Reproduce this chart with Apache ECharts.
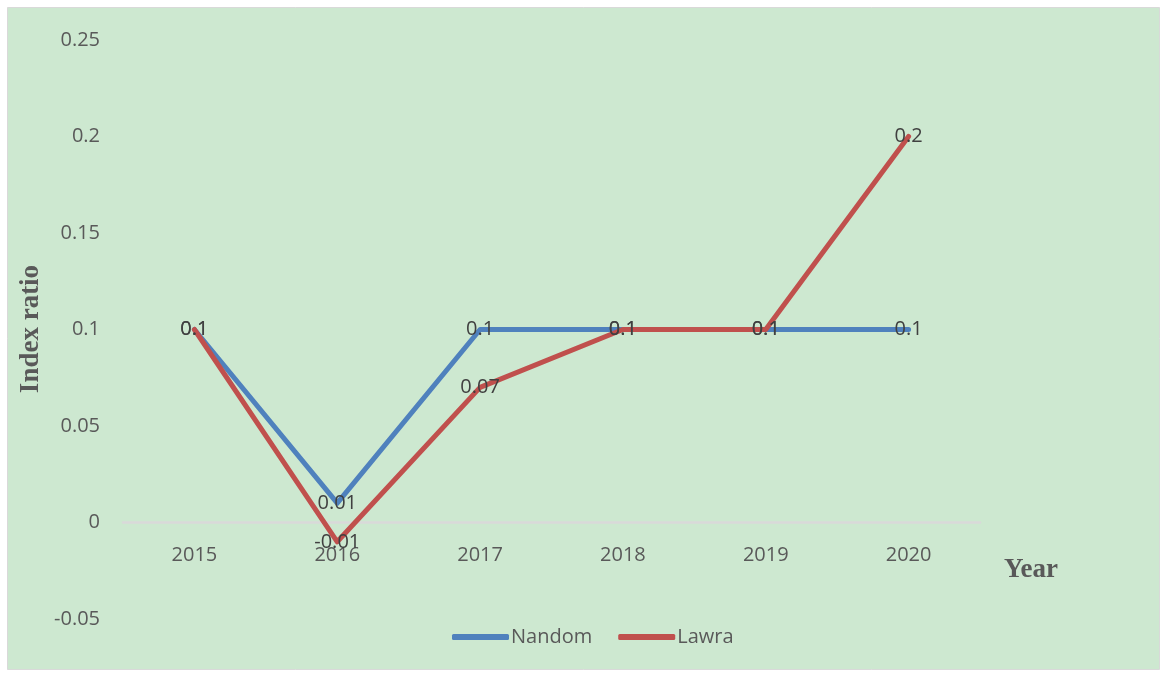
<!DOCTYPE html>
<html>
<head>
<meta charset="utf-8">
<script src="https://cdn.jsdelivr.net/npm/echarts@6/dist/echarts.min.js"></script>
<style>
html,body{margin:0;padding:0;background:#ffffff;}
#chart{width:1166px;height:674px;}
</style>
</head>
<body>
<div id="chart"></div>
<script>
const categories = ['2015','2016','2017','2018','2019','2020'];
const nandom = [0.1, 0.01, 0.1, 0.1, 0.1, 0.1];
const lawra = [0.1, -0.01, 0.07, 0.1, 0.1, 0.2];
const seriesNames = ['Nandom','Lawra'];
const yTitle = 'Index ratio';
const xTitle = 'Year';
const colors = ['#4F81BD', '#C0504D'];

const chart = echarts.init(document.getElementById('chart'));
const labelFont = '"Open Sans", "Noto Sans", sans-serif';
function mkSeries(name, data, color) {
  return {
    name: name, type: 'line', data: data, symbol: 'circle', symbolSize: 0.1, showSymbol: true,
    lineStyle: { color: color, width: 5, cap: 'round', join: 'round' },
    itemStyle: { color: color },
    label: { show: true, position: 'inside', offset: [1, 2], color: '#404040', fontSize: 20, fontFamily: labelFont,
      formatter: p => String(p.value) },
    labelLayout: { hideOverlap: false },
    emphasis: { disabled: true },
    z: 3
  };
}
chart.setOption({
  backgroundColor: '#ffffff',
  animation: false,
  graphic: [
    { type: 'rect', shape: { x: 7.5, y: 7.5, width: 1152, height: 662 },
      style: { fill: '#CDE8D0', stroke: '#D9D9D9', lineWidth: 1 }, z: -10, silent: true },
    { type: 'text', x: 31, y: 329, rotation: Math.PI / 2,
      style: { text: yTitle, font: 'bold 27px "Liberation Serif", "Times New Roman", serif', fill: '#595959',
        textAlign: 'center', textVerticalAlign: 'middle' } },
    { type: 'text', x: 1031, y: 570,
      style: { text: xTitle, font: 'bold 27px "Liberation Serif", "Times New Roman", serif', fill: '#595959',
        textAlign: 'center', textVerticalAlign: 'middle' } }
  ],
  grid: { left: 123, right: 186, top: 40, bottom: 55, containLabel: false },
  legend: {
    bottom: 22, left: 447, itemWidth: 57, itemHeight: 6, itemGap: 26, icon: 'roundRect',
    textStyle: { color: '#595959', fontSize: 20, fontFamily: labelFont, padding: [0,0,0,-3] },
    data: seriesNames.map((n, i) => ({ name: n, itemStyle: { color: colors[i] } }))
  },
  xAxis: {
    type: 'category', data: categories, boundaryGap: true,
    axisLine: { show: true, onZero: true, lineStyle: { color: '#D9D9D9', width: 2.5 } },
    axisTick: { show: false },
    axisLabel: { color: '#595959', fontSize: 20, fontFamily: labelFont, margin: -74 },
    splitLine: { show: false }
  },
  yAxis: {
    type: 'value', min: -0.05, max: 0.25, interval: 0.05,
    axisLine: { show: false }, axisTick: { show: false }, splitLine: { show: false },
    axisLabel: { color: '#595959', fontSize: 20, fontFamily: labelFont, margin: 23,
      formatter: v => String(Math.round(v * 100) / 100) }
  },
  series: [
    mkSeries(seriesNames[0], nandom, colors[0]),
    mkSeries(seriesNames[1], lawra, colors[1])
  ]
});
</script>
</body>
</html>
